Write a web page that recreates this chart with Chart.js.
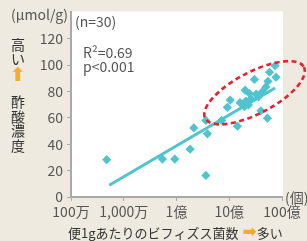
<!DOCTYPE html>
<html><head><meta charset="utf-8">
<script src="https://cdn.jsdelivr.net/npm/chart.js@4"></script>
<style>html,body{margin:0;padding:0;background:#eeeae0;}#w{width:307px;height:241px;}</style>
</head><body><div id="w"><canvas id="c" width="307" height="241"></canvas></div>
<script>
// Bifidobacteria per gram of stool (count) vs acetate concentration (μmol/g)
const bacteriaCounts = [4.75e6, 5.4e7, 9.3e7, 1.81e8, 2.13e8, 3.6e8, 3.86e8, 3.6e8, 7.2e8, 1.43e9,
  9.2e8, 1.04e9, 2.0e9, 2.42e9, 3.24e9, 3.58e9, 2.07e9, 2.31e9, 1.94e9, 3.98e9,
  5.3e9, 3.0e9, 5.4e9, 4.94e9, 5.8e9, 7.4e9, 7.7e9, 2.6e9, 4.2e9, 1.6e9];
const acetateValues = [28.3, 28.8, 28.8, 36.3, 52.4, 58.1, 47.9, 16.4, 58.1, 53.7,
  68.0, 73.5, 81.0, 78.5, 78.0, 76.0, 72.8, 69.8, 68.6, 65.4,
  59.8, 89.2, 87.7, 83.5, 94.6, 99.6, 90.9, 74.5, 79.7, 71.5];
const fitX = [5.3e6, 7.4e9];
const fitY = [8.9, 82.7];
const xTickValues = [1e6, 1e7, 1e8, 1e9, 1e10];
const xTickLabels = ['100万', '1,000万', '1億', '10億', '100億'];
const yTicks = [0, 20, 40, 60, 80, 100, 120];
const ellipseEndX = [3.5e8, 2.6e10];
const ellipseEndY = [59.6, 98.5];
const ellipseHalfMinorY = 15.8;

const TEAL = '#4fc4cf';
const TXT = '#555555';
const DARK = '#333333';
const ORANGE = '#f6ab2e';
const JP = '"Noto Sans CJK JP", "Noto Sans", sans-serif';

const bgPlugin = {
  id: 'bg',
  beforeDraw(chart) {
    const {ctx, chartArea: a} = chart;
    ctx.save();
    ctx.fillStyle = '#eeeae0';
    ctx.fillRect(0, 0, chart.width, chart.height);
    ctx.fillStyle = '#ffffff';
    ctx.fillRect(a.left, a.top - 1, a.right - a.left + 1, a.bottom - a.top + 1);
    ctx.restore();
  }
};

const ellipsePlugin = {
  id: 'ellipse',
  afterDatasetsDraw(chart) {
    const {ctx, scales: {x, y}} = chart;
    const x1 = x.getPixelForValue(ellipseEndX[0]), y1 = y.getPixelForValue(ellipseEndY[0]);
    const x2 = x.getPixelForValue(ellipseEndX[1]), y2 = y.getPixelForValue(ellipseEndY[1]);
    const cx = (x1 + x2) / 2, cy = (y1 + y2) / 2;
    const a = Math.hypot(x2 - x1, y2 - y1) / 2;
    const b = y.getPixelForValue(0) - y.getPixelForValue(ellipseHalfMinorY);
    const ang = Math.atan2(y2 - y1, x2 - x1);
    ctx.save();
    ctx.strokeStyle = '#e8212b';
    ctx.lineWidth = 2.6;
    ctx.setLineDash([5, 3.5]);
    ctx.beginPath();
    ctx.ellipse(cx, cy, a, b, ang, 0, Math.PI * 2);
    ctx.stroke();
    ctx.restore();
  }
};

const textPlugin = {
  id: 'texts',
  afterDraw(chart) {
    const {ctx, chartArea: a} = chart;
    ctx.save();
    ctx.textBaseline = 'middle';
    ctx.font = '14px ' + JP;
    ctx.fillStyle = TXT;
    ctx.textAlign = 'right';
    ctx.fillText('(μmol/g)', a.left - 3, 15);
    ctx.textAlign = 'left';
    ctx.fillText('(n=30)', a.left + 4, 22);
    ctx.fillText('R²=0.69', a.left + 12, 53);
    ctx.fillText('p<0.001', a.left + 12, 67);
    ctx.fillText('(個)', a.right + 3, a.bottom + 1);
    // y title (vertical)
    ctx.textAlign = 'center';
    ctx.fillStyle = DARK;
    const vx = 18;
    ctx.fillText('高', vx, 45);
    ctx.fillText('い', vx, 59);
    ctx.fillStyle = ORANGE;
    ctx.font = 'bold 19px "DejaVu Sans", sans-serif';
    ctx.fillText('⬆', vx, 76);
    ctx.fillStyle = DARK;
    ctx.font = '14px ' + JP;
    ['酢', '酸', '濃', '度'].forEach((ch, i) => ctx.fillText(ch, vx, 102 + i * 14.5));
    // x title
    ctx.textAlign = 'left';
    ctx.font = '13px ' + JP;
    const t1 = '便1gあたりのビフィズス菌数';
    let px = a.left - 3;
    const ty = 233;
    ctx.fillText(t1, px, ty);
    px += ctx.measureText(t1).width + 4;
    ctx.fillStyle = ORANGE;
    ctx.font = 'bold 17px "DejaVu Sans", sans-serif';
    ctx.fillText('➡', px, ty);
    px += ctx.measureText('➡').width;
    ctx.fillStyle = DARK;
    ctx.font = '13px ' + JP;
    ctx.fillText('多い', px, ty);
    ctx.restore();
  }
};

const scatterData = bacteriaCounts.map((v, i) => ({x: v, y: acetateValues[i]}));
const fitData = fitX.map((v, i) => ({x: v, y: fitY[i]}));

new Chart(document.getElementById('c'), {
  type: 'scatter',
  data: {
    datasets: [
      {
        type: 'line', data: fitData, borderColor: TEAL, borderWidth: 3,
        pointRadius: 0, fill: false, order: 2
      },
      {
        data: scatterData, pointStyle: 'rectRot', pointRadius: 4.6,
        backgroundColor: TEAL, borderColor: TEAL, borderWidth: 0, order: 1
      }
    ]
  },
  options: {
    responsive: false,
    animation: false,
    layout: {padding: {top: 9, right: 25, left: 0, bottom: 0}},
    plugins: {legend: {display: false}, tooltip: {enabled: false}},
    scales: {
      x: {
        type: 'logarithmic', min: 1e6, max: 1e10,
        afterBuildTicks: s => { s.ticks = xTickValues.map(v => ({value: v})); },
        afterFit: s => { s.height = 44; },
        border: {color: '#a9a9a9', width: 2},
        grid: {drawOnChartArea: false, tickLength: 4, color: '#a9a9a9', tickColor: '#a9a9a9'},
        ticks: {
          autoSkip: false, maxRotation: 0, padding: 2, color: TXT,
          font: {family: JP, size: 14},
          callback: (v) => { const i = xTickValues.indexOf(v); return i >= 0 ? xTickLabels[i] : ''; }
        }
      },
      y: {
        min: 0, max: 140,
        afterBuildTicks: s => { s.ticks = yTicks.map(v => ({value: v})); },
        afterFit: s => { s.width = 71; },
        border: {color: '#a9a9a9', width: 2},
        grid: {drawOnChartArea: false, tickLength: 4, color: '#a9a9a9', tickColor: '#a9a9a9'},
        ticks: {
          padding: 4, color: TXT, font: {family: JP, size: 14},
          callback: v => String(v)
        }
      }
    }
  },
  plugins: [bgPlugin, ellipsePlugin, textPlugin]
});
</script>
</body></html>
